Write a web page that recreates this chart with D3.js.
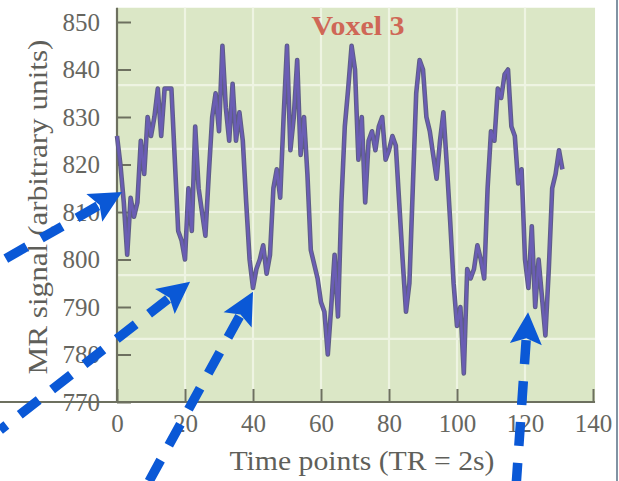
<!DOCTYPE html>
<html>
<head>
<meta charset="utf-8">
<script src="https://cdn.jsdelivr.net/npm/d3@7"></script>
<style>
  html, body { margin: 0; padding: 0; background: #ffffff; }
  svg { display: block; }
</style>
</head>
<body>
<svg id="chart" width="619" height="481"></svg>
<script>
// ---- data ----
const timePoints = d3.range(0, 132);
const signal = [
  826, 820, 812, 801, 813, 809, 812, 825, 818, 830,
  826, 830, 836, 826, 836, 836, 836, 821, 806, 804,
  800, 815, 806, 828, 815, 810, 805, 818, 830, 835,
  827, 845, 832, 825, 837, 825, 831, 825, 812, 800,
  794, 798, 800, 803, 797, 801, 815, 819, 813, 830,
  845, 823, 830, 842, 822, 830, 818, 802, 799, 796,
  791, 789, 780, 790, 801, 788, 812, 828, 836, 845,
  840, 821, 830, 812, 825, 827, 823, 828, 830, 821,
  823, 826, 824, 812, 800, 789, 795, 815, 835, 842,
  840, 830, 827, 822, 817, 825, 831, 820, 808, 795,
  786, 790, 776, 798, 796, 798, 803, 800, 796, 815,
  827, 825, 836, 834, 839, 840, 828, 826, 816, 819,
  800, 794, 807, 790, 800, 792, 784, 798, 815, 818,
  823, 819
];
const xTicks = [0, 20, 40, 60, 80, 100, 120, 140];
const yTicks = [770, 780, 790, 800, 810, 820, 830, 840, 850];
const xGrid = [20, 40, 60, 80, 100, 120];
const yGrid = [783.3, 796.7, 810, 823.3, 836.7];
const titleText = "Voxel 3";
const xLabel = "Time points (TR = 2s)";
const yLabel = "MR signal (arbitrary units)";
// annotation arrows (tail -> tip), in data space (time, signal)
const arrowTails = [[-34.4, 799.5], [-34.4, 764.1], [8.8, 752.5], [117.4, 752.5]];
const arrowTips  = [[1.5, 814.2], [21.5, 795.3], [40.0, 793.2], [120.9, 788.9]];

// ---- layout ----
const svg = d3.select("#chart");
const x = d3.scaleLinear().domain([0, 140]).range([117, 593]);
const y = d3.scaleLinear().domain([770, 850]).range([402, 22]);
const plotTop = y(853.0), plotRight = x(140.6);

// background panel
svg.append("rect")
  .attr("x", x(0)).attr("y", plotTop)
  .attr("width", plotRight - x(0)).attr("height", y(770) - plotTop)
  .attr("fill", "#dbe7c6");

// grid
svg.append("g").selectAll("line").data(xGrid).join("line")
  .attr("x1", d => x(d)).attr("x2", d => x(d))
  .attr("y1", plotTop).attr("y2", y(770))
  .attr("stroke", "#eef4e2").attr("stroke-width", 2.2);
svg.append("g").selectAll("line").data(yGrid).join("line")
  .attr("x1", x(0)).attr("x2", plotRight)
  .attr("y1", d => y(d)).attr("y2", d => y(d))
  .attr("stroke", "#eef4e2").attr("stroke-width", 2.2);

// axes
const axisColor = "#6d705f";
const fontFam = "'Liberation Serif', 'DejaVu Serif', serif";
const xAxis = svg.append("g").attr("transform", `translate(0,${y(770)})`)
  .call(d3.axisBottom(x).tickValues(xTicks).tickSize(-13).tickPadding(16).tickSizeOuter(0));
const yAxis = svg.append("g").attr("transform", `translate(${x(0)},0)`)
  .call(d3.axisLeft(y).tickValues(yTicks).tickSize(-14).tickPadding(17).tickSizeOuter(0));
[xAxis, yAxis].forEach(g => {
  g.select(".domain").attr("stroke", axisColor).attr("stroke-width", 2.2);
  g.selectAll(".tick line").attr("stroke", axisColor).attr("stroke-width", 2);
  g.selectAll(".tick text").attr("fill", "#666660")
    .style("font-family", fontFam).style("font-size", "25px");
});
xAxis.select(".domain").attr("d", `M0,0H${plotRight}`);
yAxis.select(".domain").attr("d", `M0,${plotTop}V${y(770)}`);
xAxis.selectAll(".tick text").attr("dy", "0.55em");

// line
const line = d3.line().x((d, i) => x(timePoints[i])).y(d => y(d));
svg.append("path").datum(signal)
  .attr("fill", "none").attr("stroke", "#5d5d84").attr("stroke-width", 4.6)
  .attr("stroke-linejoin", "round").attr("d", line);
svg.append("path").datum(signal)
  .attr("fill", "none").attr("stroke", "#6a5db4").attr("stroke-width", 2.6)
  .attr("stroke-linejoin", "round").attr("d", line);

// title
svg.append("text").attr("x", 358).attr("y", 35)
  .attr("text-anchor", "middle").attr("fill", "#cf6756")
  .style("font-family", fontFam).style("font-size", "28px").style("font-weight", "bold")
  .attr("textLength", 93).attr("lengthAdjust", "spacingAndGlyphs")
  .text(titleText);

// axis labels
svg.append("text").attr("x", 362).attr("y", 470)
  .attr("text-anchor", "middle").attr("fill", "#5f5f5a")
  .style("font-family", fontFam).style("font-size", "28px")
  .attr("textLength", 265).attr("lengthAdjust", "spacingAndGlyphs")
  .text(xLabel);
svg.append("text").attr("transform", "translate(47,207) rotate(-90)")
  .attr("text-anchor", "middle").attr("fill", "#5f5f5a")
  .style("font-family", fontFam).style("font-size", "28px")
  .attr("textLength", 335).attr("lengthAdjust", "spacingAndGlyphs")
  .text(yLabel);

// right border line of figure
svg.append("line").attr("x1", 617).attr("x2", 617).attr("y1", 0).attr("y2", 481)
  .attr("stroke", "#8193a3").attr("stroke-width", 2);

// annotation arrows
const arrowBlue = "#0a58d6";
const ag = svg.append("g");
arrowTails.forEach((tail, i) => {
  const x0 = x(tail[0]), y0 = y(tail[1]);
  const x1 = x(arrowTips[i][0]), y1 = y(arrowTips[i][1]);
  const dx = x1 - x0, dy = y1 - y0, len = Math.hypot(dx, dy);
  const ux = dx / len, uy = dy / len;
  const headLen = 32, headHalf = 16;
  const bx = x1 - ux * headLen, by = y1 - uy * headLen;
  ag.append("line")
    .attr("x1", bx + ux * 4).attr("y1", by + uy * 4).attr("x2", x0).attr("y2", y0)
    .attr("stroke", arrowBlue).attr("stroke-width", 9.5)
    .attr("stroke-dasharray", "24 17");
  ag.append("path")
    .attr("d", `M${x1},${y1}L${bx - uy * headHalf},${by + ux * headHalf}L${bx + ux * 6},${by + uy * 6}L${bx + uy * headHalf},${by - ux * headHalf}Z`)
    .attr("fill", arrowBlue);
});
</script>
</body>
</html>
